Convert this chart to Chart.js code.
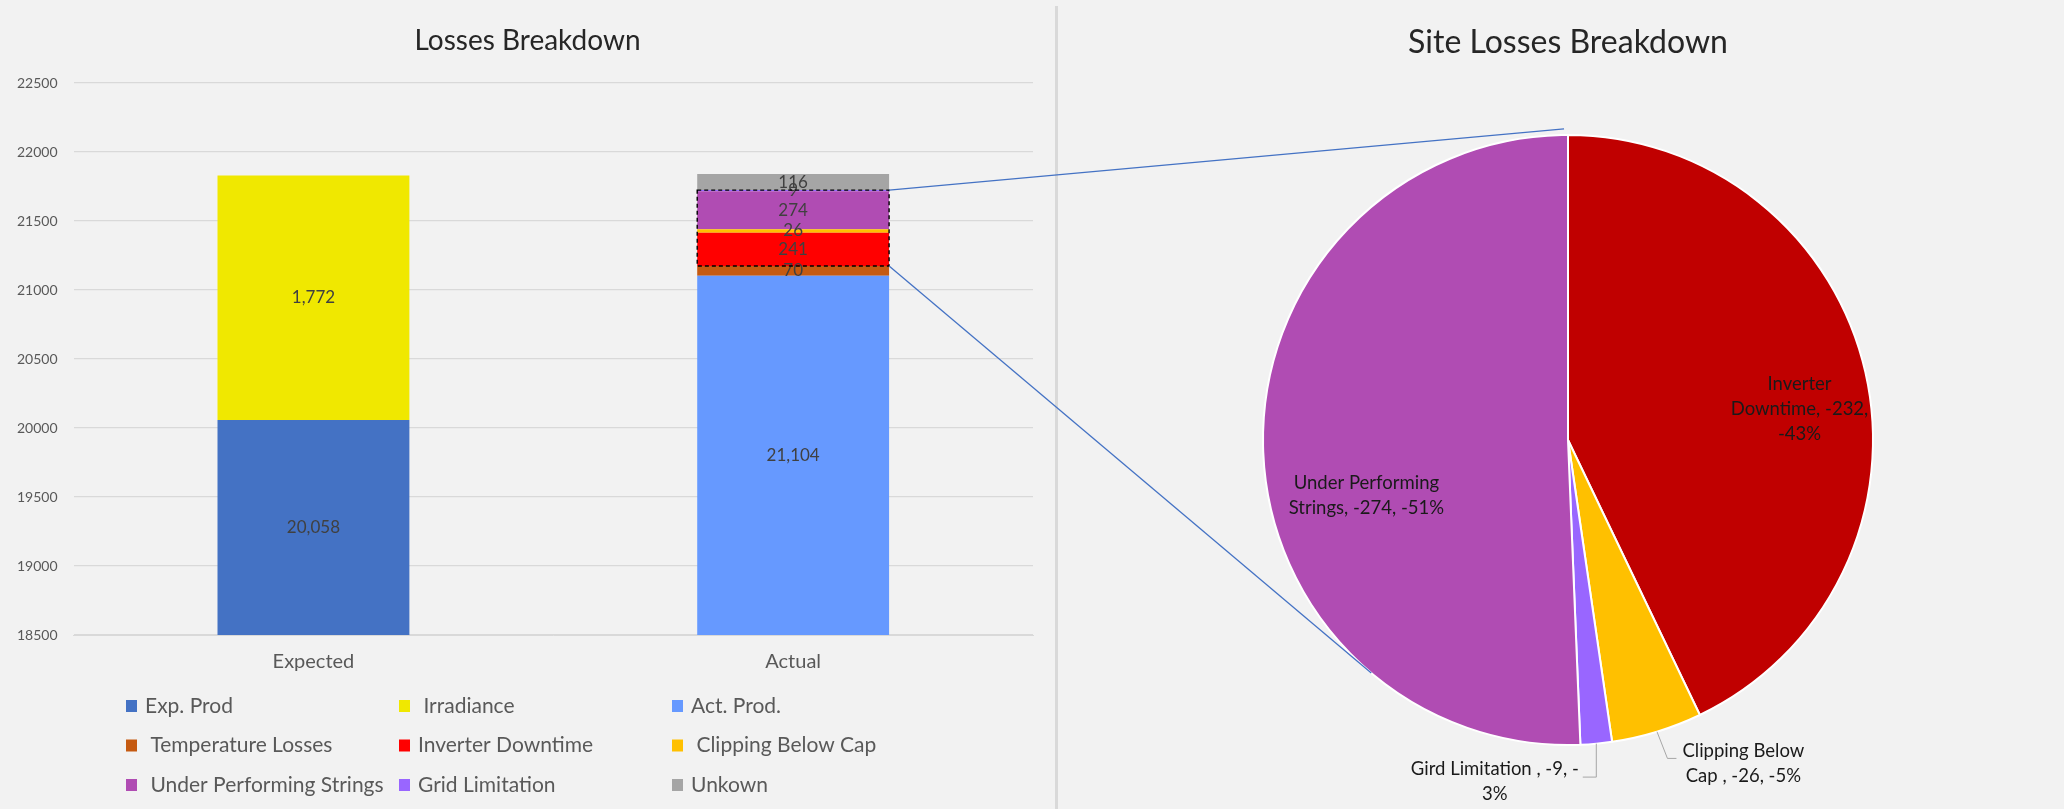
<!DOCTYPE html>
<html>
<head>
<meta charset="utf-8">
<script src="https://cdn.jsdelivr.net/npm/chart.js@4.4.0/dist/chart.umd.min.js"></script>
<style>
  html, body { margin: 0; padding: 0; background: #f2f2f2; }
  body { width: 2064px; height: 809px; position: relative; overflow: hidden; }
  #left { position: absolute; left: 0; top: 0; width: 1055px; height: 809px; }
  #divider { position: absolute; left: 1055px; top: 6px; width: 3px; height: 803px; background: #d9d9d9; }
  #right { position: absolute; left: 1060px; top: 0; width: 1004px; height: 809px; }
  #overlay { position: absolute; left: 0; top: 0; pointer-events: none; }
</style>
</head>
<body>
<div id="left"><canvas id="barCanvas"></canvas></div>
<div id="divider"></div>
<div id="right"><canvas id="pieCanvas"></canvas></div>
<canvas id="overlay" width="2064" height="809"></canvas>
<script>
// ---- bar chart data ----
const categories = ['Expected', 'Actual'];
const seriesNames = ['Exp. Prod', ' Irradiance', 'Act. Prod.', ' Temperature Losses', 'Inverter Downtime',
  ' Clipping Below Cap', ' Under Performing Strings', 'Grid Limitation', 'Unkown'];
const expProd = [20058, null];
const irradiance = [1772, null];
const actProd = [null, 21104];
const tempLosses = [null, 70];
const inverterDowntime = [null, 241];
const clippingBelowCap = [null, 26];
const underPerforming = [null, 274];
const gridLimitation = [null, 9];
const unknownLoss = [null, 116];
const seriesColors = ['#4472c4', '#f0e800', '#6699ff', '#c55a11', '#ff0000', '#ffc000', '#b04cb3', '#9966ff', '#a5a5a5'];
const yMin = 18500, yMax = 22500, yStep = 500;
const barTitle = 'Losses Breakdown';
// series that are broken out in the pie (inverter .. grid)
const pieSeriesIdx = [4, 5, 6, 7];

// ---- pie data ----
const pieCategories = ['Inverter Downtime', 'Clipping Below Cap', 'Gird Limitation', 'Under Performing Strings'];
const pieValues = [232, 26, 9, 274];
const piePercents = [43, 5, 3, 51];
const pieColors = ['#c00000', '#ffc000', '#9966ff', '#b04cb3'];
// label text templates, '|' = line break
const pieLabelFormats = ['Inverter|Downtime, -{v},|-{p}%', 'Clipping Below|Cap , -{v}, -{p}%',
  'Gird Limitation , -{v}, -|{p}%', 'Under Performing|Strings, -{v}, -{p}%'];

Chart.defaults.font.family = 'Lato';
const barSeries = [expProd, irradiance, actProd, tempLosses, inverterDowntime, clippingBelowCap, underPerforming, gridLimitation, unknownLoss];

const barLabels = {
  id: 'barLabels',
  afterDatasetsDraw(chart) {
    const { ctx, chartArea } = chart;
    ctx.save();
    ctx.font = '17px Lato';
    ctx.fillStyle = '#404040';
    ctx.textAlign = 'center';
    ctx.textBaseline = 'middle';
    chart.data.datasets.forEach((ds, i) => {
      chart.getDatasetMeta(i).data.forEach((bar, j) => {
        const v = ds.data[j];
        if (v == null) return;
        const top = Math.max(Math.min(bar.y, bar.base), chartArea.top);
        const bottom = Math.min(Math.max(bar.y, bar.base), chartArea.bottom);
        ctx.fillText(v.toLocaleString('en-US'), bar.x, (top + bottom) / 2);
      });
    });
    ctx.restore();
  }
};

// title centred on the whole panel, and a 3 x 3 legend under the bars
const panelDecor = {
  id: 'panelDecor',
  afterDraw(chart) {
    const ctx = chart.ctx;
    ctx.save();
    ctx.font = '28px Lato';
    ctx.fillStyle = '#262626';
    ctx.textAlign = 'center';
    ctx.textBaseline = 'middle';
    ctx.fillText(barTitle, chart.width / 2, 41);

    const left = 126, colW = 273, top = 706, rowH = 39.5;
    ctx.font = '21px Lato';
    ctx.textAlign = 'left';
    chart.data.datasets.forEach((ds, i) => {
      const x = left + (i % 3) * colW;
      const y = top + Math.floor(i / 3) * rowH;
      ctx.fillStyle = ds.backgroundColor;
      ctx.fillRect(x, y - 6, 11, 12);
      ctx.fillStyle = '#595959';
      ctx.fillText(ds.label, x + 19, y);
    });
    ctx.restore();
  }
};

const barChart = new Chart(document.getElementById('barCanvas'), {
  type: 'bar',
  data: {
    labels: categories,
    datasets: seriesNames.map((name, i) => ({
      label: name,
      data: barSeries[i],
      backgroundColor: seriesColors[i],
      borderWidth: 0,
      barPercentage: 0.4,
      categoryPercentage: 1
    }))
  },
  options: {
    responsive: true,
    maintainAspectRatio: false,
    animation: false,
    layout: { padding: { left: 1, right: 22, top: 83, bottom: 120 } },
    scales: {
      x: {
        stacked: true,
        grid: { display: false, drawTicks: false },
        border: { display: true, color: '#d9d9d9' },
        ticks: { color: '#595959', font: { size: 20 }, padding: 15 }
      },
      y: {
        stacked: true,
        min: yMin,
        max: yMax,
        grid: { color: '#d9d9d9', lineWidth: 1.3, drawTicks: false },
        border: { display: false },
        ticks: { stepSize: yStep, color: '#595959', font: { size: 14 }, padding: 16, callback: v => String(v) }
      }
    },
    plugins: {
      legend: { display: false },
      tooltip: { enabled: false },
      title: { display: false }
    }
  },
  plugins: [barLabels, panelDecor]
});

// labels and leader lines on the pie
const pieLabels = {
  id: 'pieLabels',
  afterDatasetsDraw(chart) {
    const { ctx } = chart;
    const arcs = chart.getDatasetMeta(0).data;
    const place = [
      { dx: 0.759, dy: -0.10, leader: null },
      { dx: 0.575, dy: 1.062, leader: 'right' },
      { dx: -0.240, dy: 1.12, leader: 'left' },
      { dx: -0.661, dy: 0.182, leader: null }
    ];
    const lineH = 25;
    ctx.save();
    ctx.font = '18.5px Lato';
    ctx.textAlign = 'center';
    ctx.textBaseline = 'middle';
    arcs.forEach((arc, i) => {
      const cx = arc.x, cy = arc.y, r = arc.outerRadius;
      const lines = pieLabelFormats[i].replace('{v}', pieValues[i]).replace('{p}', piePercents[i]).split('|');
      const bx = cx + place[i].dx * r;
      const by = cy + place[i].dy * r;
      const y0 = by - (lines.length - 1) * lineH / 2;
      ctx.fillStyle = '#1a1a1a';
      lines.forEach((t, k) => ctx.fillText(t, bx, y0 + k * lineH));
      if (place[i].leader) {
        const mid = (arc.startAngle + arc.endAngle) / 2;
        const sx = cx + r * Math.cos(mid), sy = cy + r * Math.sin(mid);
        const w = ctx.measureText(lines[0]).width;
        ctx.strokeStyle = '#a6a6a6';
        ctx.lineWidth = 1;
        ctx.beginPath();
        ctx.moveTo(sx, sy);
        if (place[i].leader === 'left') {
          ctx.lineTo(sx, y0 + 8);
          ctx.lineTo(bx + w / 2 + 4, y0 + 8);
        } else {
          const lx = bx - w / 2;
          ctx.lineTo(lx - 15, y0 + 7);
          ctx.lineTo(lx - 6, y0 + 7);
        }
        ctx.stroke();
      }
    });
    ctx.restore();
  }
};

const pieChart = new Chart(document.getElementById('pieCanvas'), {
  type: 'pie',
  data: {
    labels: pieCategories,
    datasets: [{ data: pieValues, backgroundColor: pieColors, borderColor: '#ffffff', borderWidth: 2 }]
  },
  options: {
    responsive: true,
    maintainAspectRatio: false,
    animation: false,
    radius: 305,
    layout: { padding: { left: 20, right: 8, top: 0, bottom: 64 } },
    plugins: {
      legend: { display: false },
      tooltip: { enabled: false },
      title: {
        display: true,
        text: 'Site Losses Breakdown',
        color: '#262626',
        font: { size: 32, weight: 'normal' },
        padding: { top: 23, bottom: 73.6 }
      }
    }
  },
  plugins: [pieLabels]
});

// dashed box round the pie series and the two connector lines (page coords)
function drawConnectors() {
  const ctx = document.getElementById('overlay').getContext('2d');
  const barRect = document.getElementById('barCanvas').getBoundingClientRect();
  const pieRect = document.getElementById('pieCanvas').getBoundingClientRect();
  let top = Infinity, bottom = -Infinity, bx = 0, bw = 0;
  pieSeriesIdx.forEach(i => {
    const bar = barChart.getDatasetMeta(i).data[1];
    top = Math.min(top, bar.y);
    bottom = Math.max(bottom, bar.base);
    bx = bar.x; bw = bar.width;
  });
  const x0 = barRect.left + bx - bw / 2, x1 = barRect.left + bx + bw / 2;
  top += barRect.top; bottom += barRect.top;

  ctx.save();
  ctx.strokeStyle = '#000000';
  ctx.lineWidth = 1.4;
  ctx.setLineDash([4, 3]);
  ctx.strokeRect(x0, top, x1 - x0, bottom - top);
  ctx.restore();

  const arc = pieChart.getDatasetMeta(0).data[0];
  const cx = pieRect.left + arc.x, cy = pieRect.top + arc.y, r = arc.outerRadius;
  ctx.save();
  ctx.strokeStyle = '#4472c4';
  ctx.lineWidth = 1.3;
  // upper line runs to just above the top of the pie
  ctx.beginPath();
  ctx.moveTo(x1, top);
  ctx.lineTo(cx - 0.013 * r, cy - 1.02 * r);
  ctx.stroke();
  // lower line is tangent to the pie
  const dx = cx - x1, dy = cy - bottom;
  const d = Math.hypot(dx, dy);
  const theta = Math.atan2(dy, dx) + Math.asin(r / d);
  const len = Math.sqrt(d * d - r * r);
  ctx.beginPath();
  ctx.moveTo(x1, bottom);
  ctx.lineTo(x1 + len * Math.cos(theta), bottom + len * Math.sin(theta));
  ctx.stroke();
  ctx.restore();
}
drawConnectors();
</script>
</body>
</html>
